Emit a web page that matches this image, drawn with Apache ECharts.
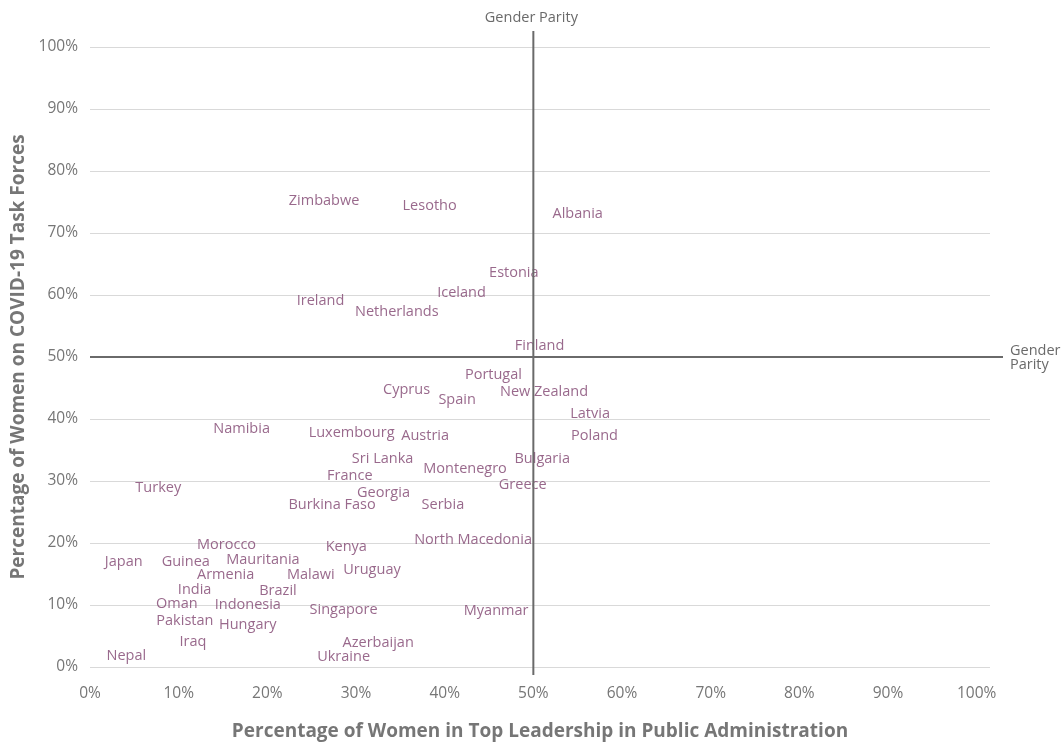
<!DOCTYPE html>
<html>
<head>
<meta charset="utf-8">
<script src="https://cdn.jsdelivr.net/npm/echarts@6/dist/echarts.min.js"></script>
<style>
  html, body { margin: 0; padding: 0; background: #fff; }
  #chart { width: 1063px; height: 742px; }
</style>
</head>
<body>
<div id="chart"></div>
<script>
// countries, % women in top public admin leadership (x), % women on covid task forces (y)
const countries = ['Zimbabwe', 'Lesotho', 'Albania', 'Estonia', 'Iceland', 'Ireland', 'Netherlands', 'Finland',
    'Portugal', 'Cyprus', 'Spain', 'New Zealand', 'Latvia', 'Poland', 'Namibia', 'Luxembourg', 'Austria',
    'Sri Lanka', 'Montenegro', 'Bulgaria', 'France', 'Turkey', 'Georgia', 'Greece', 'Burkina Faso', 'Serbia',
    'North Macedonia', 'Morocco', 'Kenya', 'Japan', 'Guinea', 'Mauritania', 'Armenia', 'Malawi', 'Uruguay',
    'India', 'Brazil', 'Oman', 'Indonesia', 'Singapore', 'Myanmar', 'Pakistan', 'Hungary', 'Iraq',
    'Azerbaijan', 'Nepal', 'Ukraine'];
const leaderPct = [26.4, 38.3, 55.0, 47.8, 41.9, 26.0, 34.6, 50.7,
    45.5, 35.7, 41.4, 51.2, 56.4, 56.9, 17.1, 29.5, 37.8,
    33.0, 42.3, 51.0, 29.3, 7.7, 33.1, 48.8, 27.3, 39.8,
    43.2, 15.4, 28.9, 3.8, 10.8, 19.5, 15.3, 24.9, 31.8,
    11.8, 21.2, 9.8, 17.8, 28.6, 45.8, 10.7, 17.8, 11.6,
    32.5, 4.1, 28.6];
const taskForcePct = [75.2, 74.4, 73.1, 63.5, 60.3, 59.0, 57.3, 51.8,
    47.1, 44.7, 43.1, 44.4, 40.8, 37.3, 38.4, 37.7, 37.3,
    33.5, 31.9, 33.5, 30.8, 28.9, 28.1, 29.4, 26.1, 26.1,
    20.5, 19.7, 19.4, 16.9, 16.9, 17.3, 14.8, 14.8, 15.6,
    12.4, 12.3, 10.2, 10.0, 9.2, 9.0, 7.4, 6.8, 4.0,
    3.9, 1.8, 1.6];
const parity = 50;

const labelColor = '#80436f';
const axisGray = '#767676';
const lineGray = '#6a6a6a';
const font = '"Open Sans", "Noto Sans", sans-serif';

const chart = echarts.init(document.getElementById('chart'));

const points = countries.map((c, i) => ({ name: c, value: [leaderPct[i], taskForcePct[i]] }));

const option = {
    animation: false,
    textStyle: { fontFamily: font },
    grid: { left: 90, right: 73, top: 47, bottom: 75, containLabel: false, outerBoundsMode: 'none' },
    xAxis: {
        type: 'value',
        min: 0,
        max: 101.5,
        interval: 10,
        name: 'Percentage of Women in Top Leadership in Public Administration',
        nameLocation: 'middle',
        nameGap: 55,
        nameTextStyle: { color: axisGray, fontSize: 19, fontWeight: 'bold', fontFamily: font },
        axisLine: { show: false },
        axisTick: { show: false },
        splitLine: { show: false },
        axisLabel: {
            color: axisGray, fontSize: 15.5, margin: 19,
            formatter: v => (v > 100 ? '' : v + '%')
        }
    },
    yAxis: {
        type: 'value',
        min: 0,
        max: 100,
        interval: 10,
        name: 'Percentage of Women on COVID-19 Task Forces',
        nameLocation: 'middle',
        nameGap: 62,
        nameTextStyle: { color: axisGray, fontSize: 19, fontWeight: 'bold', fontFamily: font },
        axisLine: { show: false },
        axisTick: { show: false },
        splitLine: { lineStyle: { color: '#d9d9d9', width: 1 } },
        axisLabel: { color: axisGray, fontSize: 15.5, margin: 12, formatter: '{value}%' }
    },
    series: [{
        type: 'scatter',
        data: points,
        symbolSize: 1,
        itemStyle: { color: 'rgba(0,0,0,0)' },
        z: 5,
        label: {
            show: true,
            position: 'inside',
            formatter: '{b}',
            color: labelColor,
            fontSize: 14.5,
            fontFamily: font
        }
    }]
};
chart.setOption(option);

// gender parity reference lines, placed through the chart's own scales
const p0 = chart.convertToPixel({ gridIndex: 0 }, [0, 0]);
const pMid = chart.convertToPixel({ gridIndex: 0 }, [parity, parity]);
const pTop = chart.convertToPixel({ gridIndex: 0 }, [101.5, 100]);

chart.setOption({
    graphic: [
        {
            type: 'line', z: 10,
            shape: { x1: pMid[0], y1: pTop[1] - 16, x2: pMid[0], y2: p0[1] + 8 },
            style: { stroke: lineGray, lineWidth: 2 }
        },
        {
            type: 'line', z: 10,
            shape: { x1: p0[0], y1: pMid[1], x2: pTop[0] + 13, y2: pMid[1] },
            style: { stroke: lineGray, lineWidth: 2 }
        },
        {
            type: 'text', z: 10,
            x: pMid[0] - 2, y: pTop[1] - 29,
            style: {
                text: 'Gender Parity', fill: lineGray, font: '14.5px ' + font,
                align: 'center', verticalAlign: 'middle'
            }
        },
        {
            type: 'text', z: 10,
            x: pTop[0] + 20, y: pMid[1] + 1,
            style: {
                text: 'Gender\nParity', fill: lineGray, font: '14.5px ' + font,
                align: 'left', verticalAlign: 'middle', lineHeight: 14
            }
        }
    ]
});
</script>
</body>
</html>
